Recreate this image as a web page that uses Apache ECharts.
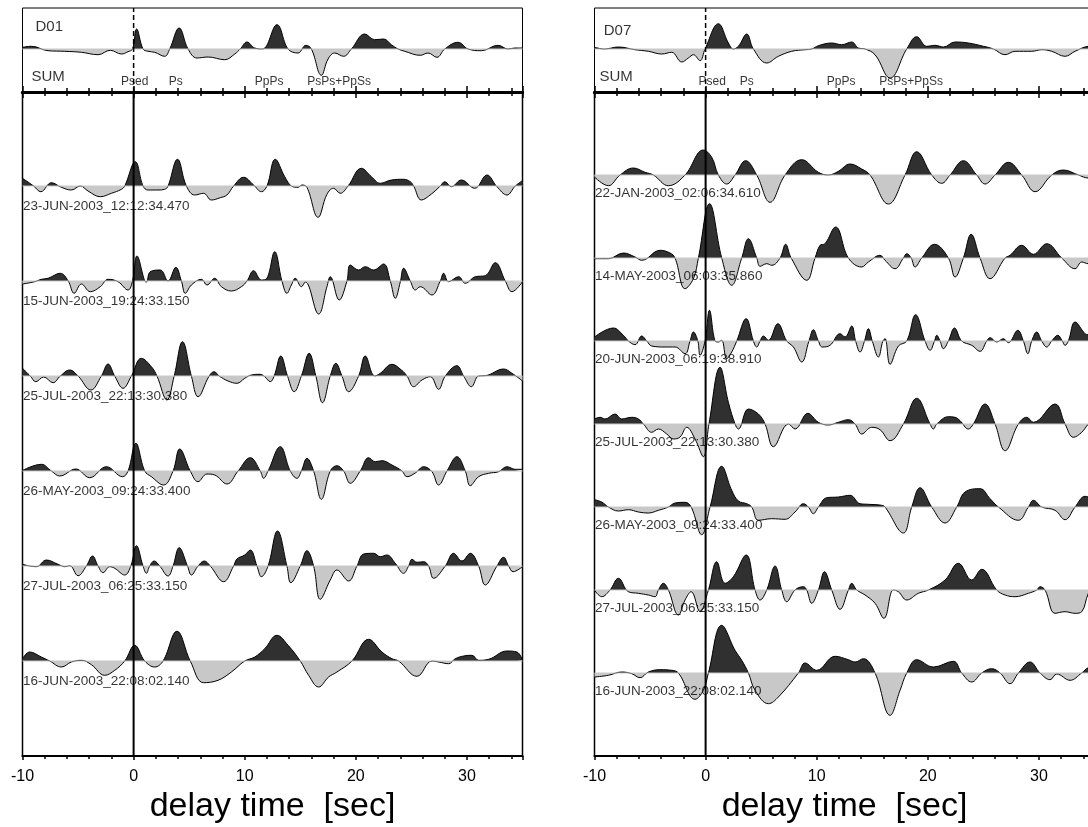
<!DOCTYPE html>
<html><head><meta charset="utf-8">
<script src="https://cdn.jsdelivr.net/npm/echarts@6/dist/echarts.min.js"></script>
<style>html,body{margin:0;padding:0;background:#fff}#c{width:1088px;height:827px}</style>
</head><body><div id="c"></div>
<script>
// ---------------- axis definition ----------------
const X_MIN = -10, X_MAX = 35, X_STEP = 10;
const X_NAME = 'delay time  [sec]';
const PHASE_NAMES = ['Psed', 'Ps', 'PpPs', 'PsPs+PpSs'];
const PHASE_T_D01 = [0.1, 3.8, 12.2, 18.5];
const PHASE_T_D07 = [0.6, 3.7, 12.2, 18.5];

// ---------------- station D01 ----------------
const D01_LABELS = ['23-JUN-2003_12:12:34.470','15-JUN-2003_19:24:33.150','25-JUL-2003_22:13:30.380',
  '26-MAY-2003_09:24:33.400','27-JUL-2003_06:25:33.150','16-JUN-2003_22:08:02.140'];
const D01_SUM = [[-10,0.17],[-9.2,0.27],[-7.7,-0.17],[-6.2,-0.23],[-4.7,-0.33],[-3.2,-0.57],[-2.1,-0.13],[-1.1,-0.5],[-0.5,-0.27],[-0.1,0],[0.27,2.0],[0.85,0],[1.3,-0.23],[1.9,-0.33],[2.8,-0.73],[3.25,0],[4.1,2.1],[4.9,0],[5.7,-0.9],[6.7,-0.8],[8.2,-1.07],[9.1,-0.5],[9.6,0],[10.2,0.7],[10.9,0.1],[11.6,0],[12.9,2.43],[13.9,0],[14.8,-0.4],[15.5,0.37],[16.0,0],[16.9,-2.63],[17.5,-1.0],[18.1,-0.4],[18.9,-0.73],[19.6,0],[20.8,1.5],[21.7,0.93],[22.5,1.0],[23.2,0.43],[23.8,0],[24.4,-0.23],[25.8,-0.63],[26.5,-0.4],[27.3,-0.83],[28.0,0],[29.2,0.67],[30.1,0],[31.3,-0.17],[32.8,0.37],[33.7,0],[34.3,0.1],[35,0.1]];
const D01_T1 = [[-10,0.77],[-9.0,0],[-8.35,-0.57],[-7.4,0.33],[-6.5,-0.13],[-5.6,-0.4],[-4.8,0.0],[-4.1,-0.5],[-3.0,-1.07],[-2.0,-0.73],[-1.1,-0.33],[-0.8,0],[0.15,2.43],[0.85,0],[1.3,-0.4],[2.2,-0.4],[2.8,-0.33],[3.1,0],[3.95,2.67],[4.75,0],[5.5,-0.9],[6.3,-0.73],[7.0,-1.4],[7.8,-1.17],[8.4,-0.9],[9.0,0],[9.9,0.87],[10.8,0.1],[11.5,-0.57],[12.0,0],[12.75,2.67],[13.6,0.93],[14.2,0],[14.8,-0.13],[15.15,0.1],[15.6,-0.13],[16.6,-3.13],[17.4,-0.83],[18.0,-0.23],[18.6,-0.73],[19.3,0],[20.5,1.77],[21.4,0.93],[22.2,0.27],[23.2,0.6],[24.3,0.67],[24.9,0.43],[25.2,0],[25.9,-1.4],[26.8,-0.8],[27.6,0],[28.0,0.43],[28.6,-0.07],[29.5,0.6],[30.7,-0.23],[31.8,1.1],[32.7,-0.07],[33.6,-0.9],[34.35,0],[35,0.53]];
const D01_T2 = [[-10,-0.3],[-8.9,-0.07],[-8.3,0.17],[-7.7,0.27],[-6.6,0.77],[-5.9,0.03],[-5.35,-1.23],[-4.7,-0.3],[-3.9,-1.07],[-3.0,-0.57],[-2.3,0.17],[-1.4,-0.07],[-0.5,-0.9],[-0.1,0],[0.3,2.5],[1.0,0],[1.15,-0.1],[1.5,0.93],[2.4,1.1],[3.1,0],[3.8,1.37],[4.3,0],[4.65,-1.23],[5.2,-0.4],[6.1,0.17],[6.6,-0.4],[7.3,0.27],[7.9,-0.57],[8.8,-1.0],[9.7,-0.57],[10.2,0],[10.8,1.03],[11.5,0.1],[12.0,0.27],[12.7,2.93],[13.35,0],[13.8,-1.23],[14.2,-0.4],[14.55,0.27],[15.1,-0.57],[15.45,-0.1],[16.65,-3.3],[17.4,-0.57],[17.7,0.43],[18.5,-1.9],[19.2,0],[19.5,1.6],[20.25,1.1],[20.85,1.43],[21.6,1.1],[22.5,1.7],[23.1,0],[23.55,-1.73],[24.0,-0.1],[24.3,1.27],[24.9,0],[25.35,-0.9],[25.8,-0.57],[26.85,-1.4],[27.6,0],[27.9,0.77],[28.35,-0.07],[29.25,0.43],[29.85,-0.23],[30.75,0.43],[31.65,0.53],[32.55,1.83],[33.45,0],[34.05,-1.07],[35,-0.07]];
const D01_T3 = [[-10,0.77],[-9.3,0],[-8.8,-0.57],[-8.1,-0.1],[-7.25,-0.67],[-6.6,0],[-5.75,0.6],[-5.0,0],[-3.85,-1.4],[-2.9,0],[-2.3,1.2],[-1.7,0],[-0.95,-1.23],[-0.2,0],[0.7,1.77],[1.6,0.93],[2.1,0],[3.0,-2.4],[3.65,0],[4.4,3.43],[5.2,0],[5.8,-2.07],[6.8,0],[7.25,0.43],[7.7,0],[8.5,-0.5],[9.3,-0.73],[10.0,-0.23],[10.6,0.1],[11.4,0.17],[11.8,-0.07],[12.3,-0.57],[12.65,0],[13.25,2.0],[13.85,0],[14.45,-1.57],[15.1,0],[15.8,2.27],[16.4,0],[17.0,-2.67],[17.7,0],[18.2,1.27],[18.75,0],[19.35,-1.57],[20.25,0],[20.85,2.0],[21.7,0],[22.2,0.27],[23.25,1.17],[24.1,0.6],[24.6,0],[25.2,-1.07],[25.95,-0.4],[26.7,-0.07],[27.45,-1.33],[28.05,0],[29.1,1.03],[29.7,0],[30.4,-1.07],[31.05,0],[31.65,0.03],[33.3,0.7],[34.05,0.27],[35,-0.5]];
const D01_T4 = [[-10,0.05],[-8.3,0.67],[-7.4,0],[-6.65,-0.5],[-5.2,0.2],[-3.95,-0.67],[-2.45,0.43],[-1.0,-0.57],[-0.5,0],[0.2,2.77],[1.0,0],[1.6,-0.57],[2.7,-1.4],[3.55,0],[4.15,2.2],[5.1,0],[5.8,-1.07],[6.6,-0.3],[7.3,-0.4],[8.4,-1.3],[9.4,0],[10.5,1.33],[11.4,0],[11.7,-0.73],[12.1,0],[13.2,2.43],[14.1,0],[14.7,-0.73],[15.1,0],[15.6,1.27],[16.2,0],[16.9,-2.83],[17.7,0],[18.3,0.53],[18.9,0],[19.5,-1.23],[20.4,0],[21.15,1.33],[21.75,0.93],[22.35,1.03],[23.25,0.6],[24.15,0],[24.6,-0.57],[25.35,-0.2],[26.1,0.43],[26.85,-0.07],[27.45,-1.4],[28.2,0],[29.1,1.43],[29.85,0],[30.3,-1.47],[31.05,-0.57],[31.95,-0.23],[32.85,-0.07],[33.6,0.43],[34.35,0.17],[35,0.17]];
const D01_T5 = [[-10,0.17],[-9.35,0],[-8.75,-0.07],[-7.85,0.6],[-6.8,0.17],[-6.2,-0.07],[-5.75,0.03],[-5.0,-0.97],[-4.25,0],[-3.7,1.0],[-3.2,0],[-2.75,-0.67],[-2.15,-0.07],[-1.7,-0.23],[-0.8,-0.9],[-0.25,0],[0.25,2.03],[0.85,0],[1.15,-0.73],[1.45,0],[1.85,0.5],[2.35,0],[3.1,-1.0],[3.55,0],[4.1,1.83],[4.85,0],[5.2,-0.9],[5.8,0],[6.35,0.5],[6.9,0],[8.1,-1.57],[9.0,0],[9.3,0.7],[10.0,1.1],[10.5,1.6],[11.1,0],[11.5,-1.07],[12.1,0],[12.95,3.5],[13.8,0],[14.15,-1.67],[15.0,0],[15.6,1.53],[16.2,0],[16.8,-3.33],[17.7,-1.4],[18.3,-0.4],[19.35,-1.5],[20.1,0],[20.7,1.2],[21.6,1.27],[22.2,0.93],[22.8,1.1],[23.55,0.27],[24.3,-0.73],[24.75,0],[25.05,0.67],[25.5,0.37],[26.1,0.43],[26.55,0],[27.0,-1.23],[28.05,0],[28.8,1.27],[29.55,0.5],[30.3,1.27],[31.05,0],[31.65,-1.9],[32.7,0],[33.3,0.87],[33.75,0],[34.15,-0.57],[35,-0.07]];
const D01_T6 = [[-10,0.23],[-9.35,0.9],[-8.3,0.4],[-7.55,0],[-6.5,-0.6],[-5.6,-0.1],[-4.7,0.07],[-3.8,-0.37],[-2.6,-1.43],[-1.7,-0.93],[-0.8,0],[0.1,1.57],[1.0,0],[1.9,-0.6],[2.65,0],[3.9,2.97],[5.1,0],[6.3,-2.17],[7.6,-1.93],[8.8,-1.1],[10.0,0],[10.9,0.4],[11.8,1.23],[12.9,2.57],[13.9,1.57],[15.0,0],[15.75,-1.43],[16.65,-2.6],[17.55,-1.6],[18.3,-1.1],[19.65,0],[21.15,2.17],[22.35,0.9],[23.25,0.23],[23.85,0],[25.5,-1.53],[26.85,0],[27.45,-0.1],[28.35,-0.27],[28.95,0.23],[29.7,0.5],[30.45,0.57],[31.05,0.07],[31.95,0.17],[33.6,1.0],[34.5,0.9],[35,0.07]];

// ---------------- station D07 ----------------
const D07_LABELS = ['22-JAN-2003_02:06:34.610','14-MAY-2003_06:03:35.860','20-JUN-2003_06:19:38.910',
  '25-JUL-2003_22:13:30.380','26-MAY-2003_09:24:33.400','27-JUL-2003_06:25:33.150','16-JUN-2003_22:08:02.140'];
const D07_SUM = [[-10,0.17],[-9.1,0],[-7.85,0.2],[-6.35,-0.07],[-5.15,-0.23],[-3.95,-0.5],[-3.05,-0.33],[-2.15,-1.3],[-1.55,-0.9],[-1.1,-0.57],[-0.5,-1.17],[-0.05,0],[1.15,2.53],[2.05,0.6],[2.5,0],[2.95,0.27],[3.7,1.5],[4.3,0],[5.5,-1.4],[6.55,-0.73],[7.75,-0.23],[8.95,-0.07],[9.55,0],[10.15,0.33],[11.35,0.6],[12.25,0.43],[13.15,0.7],[13.75,0.1],[14.35,0],[15.25,-0.57],[16.6,-2.9],[18.1,0],[19.0,1.23],[19.9,0.27],[20.65,0.37],[21.4,0.2],[22.45,0.7],[23.65,0.6],[25.0,0.27],[25.9,0],[26.95,-0.57],[27.85,-0.23],[29.35,-0.23],[30.25,-0.07],[31.15,-0.23],[32.35,-0.73],[33.25,-0.23],[34.45,0.27],[35,0.3]];
const D07_T1 = [[-10,-0.2],[-8.75,-1.07],[-7.7,0],[-6.5,0.7],[-5.45,0.27],[-4.7,0],[-3.35,-1.07],[-1.85,0],[-0.2,2.5],[0.55,1.77],[1.15,0],[1.9,-0.9],[2.65,0],[3.6,1.43],[4.6,0],[5.8,-2.73],[7.15,0],[8.65,1.53],[10.15,0.27],[11.05,0],[11.95,0.37],[13.0,1.1],[14.05,0.6],[14.8,0],[16.45,-2.9],[17.95,0],[19.0,2.33],[20.35,0],[21.25,-0.83],[22.0,0],[23.2,1.43],[24.4,0],[25.15,-0.9],[26.05,0],[27.25,1.27],[28.45,0],[29.65,-1.67],[31.15,0],[32.2,0.5],[33.55,0],[34.45,-0.3],[35,-0.2]];
const D07_T2 = [[-10,-0.07],[-8.75,-0.07],[-7.4,0.5],[-6.35,0.1],[-5.75,-0.23],[-4.1,0.77],[-3.2,0.5],[-2.75,0],[-1.85,-3.07],[-1.1,-2.07],[-0.65,0],[0.35,5.43],[1.45,0],[2.35,-2.73],[3.25,0],[3.85,1.93],[4.6,0],[4.9,-0.83],[5.5,-0.57],[5.95,-0.73],[6.7,0],[7.2,1.37],[7.7,0],[9.1,-2.23],[9.85,0],[10.3,1.27],[10.75,1.43],[11.7,3.1],[12.85,0],[14.05,-0.9],[14.65,-0.4],[15.7,0.27],[16.15,-0.23],[17.05,-1.07],[17.8,0],[18.1,0.43],[18.5,0],[18.85,-0.9],[19.45,0],[20.6,1.37],[21.85,0],[22.45,-1.9],[23.2,0],[23.9,2.37],[24.7,0],[25.6,-2.07],[26.95,0],[27.4,0.27],[28.45,1.27],[29.5,0.37],[30.7,1.43],[32.05,0],[33.25,-1.07],[33.85,-0.4],[34.45,-0.57],[35,-0.4]];
const D07_T3 = [[-10,0.4],[-8.3,1.3],[-7.4,0.57],[-6.95,0],[-6.35,-0.37],[-5.75,0.5],[-5.3,0],[-4.85,-0.5],[-3.65,-0.6],[-2.75,-0.6],[-1.85,-1.27],[-1.4,0],[-1.1,0.9],[-0.7,0],[-0.5,-1.43],[-0.05,0],[0.35,3.07],[0.85,0],[1.15,-0.1],[1.45,0.07],[1.9,-1.77],[2.35,-1.1],[2.8,0],[3.65,2.23],[4.3,0],[4.6,-0.6],[4.9,0],[5.2,0.5],[5.65,0.07],[6.5,1.73],[7.3,0],[7.9,-0.6],[8.65,-2.1],[9.3,0],[9.7,1.13],[10.15,0],[10.5,-0.6],[11.2,-0.43],[12.1,0.73],[12.55,0.4],[13.15,1.5],[13.5,0],[13.9,-1.1],[14.3,0],[14.65,1.23],[15.0,0],[15.55,-1.6],[15.95,0],[16.15,0.23],[16.6,-2.33],[17.35,-0.5],[18.1,0],[18.9,2.63],[19.75,0],[20.2,-0.93],[20.6,0],[20.8,0.57],[21.1,0],[21.4,-0.77],[21.85,0],[22.4,1.3],[23.05,0],[23.95,-0.43],[24.7,-1.03],[25.3,0],[25.6,0.33],[26.2,-0.1],[26.8,0.23],[27.25,-0.17],[28.1,1.07],[28.6,0],[29.0,-1.27],[29.35,0],[29.8,0.9],[30.25,0],[30.7,-0.6],[31.15,0],[31.7,0.57],[32.1,0],[32.35,-0.43],[32.65,0],[33.25,1.9],[34.15,0.73],[34.45,0.63],[35,0.5]];
const D07_T4 = [[-10,0.5],[-9.5,0.67],[-9.05,0.5],[-8.15,1.0],[-7.55,0.5],[-6.65,0.67],[-6.05,0.5],[-5.6,0],[-4.85,-0.83],[-4.25,-0.5],[-3.5,-1.0],[-2.9,-1.5],[-2.3,-1.3],[-1.7,-0.33],[-0.95,-1.5],[-0.2,-3.27],[0.3,0],[1.3,5.67],[2.05,2.17],[2.65,0],[2.95,-0.5],[3.85,1.5],[4.75,1.0],[5.35,0],[6.1,-2.27],[7.45,0],[8.05,-0.5],[9.2,1.07],[10.15,0.17],[11.05,-0.1],[11.95,0.17],[12.85,0.43],[13.45,0],[14.05,-1.0],[14.95,-0.33],[15.7,-0.57],[16.6,-1.67],[17.8,0],[19.0,2.57],[20.2,0],[20.5,-0.5],[20.8,0],[21.85,0.73],[22.45,0.67],[22.9,0.33],[23.65,-0.5],[24.1,0],[25.15,2.0],[26.05,0],[26.95,-2.67],[28.15,0],[28.9,0.67],[29.5,0.17],[31.45,2.0],[32.35,0],[33.1,-1.33],[33.85,-0.83],[34.45,0],[35,0.5]];
const D07_T5 = [[-10,0.73],[-9.35,0.5],[-8.75,0],[-7.85,-0.4],[-6.95,-0.27],[-6.05,-0.5],[-5.15,-0.6],[-4.25,-0.33],[-3.35,0],[-2.75,0.4],[-1.85,0.47],[-1.3,0],[-0.35,-2.77],[0.4,0],[1.45,4.07],[2.35,1.67],[2.95,0.6],[3.7,0.33],[4.15,0],[4.75,-1.33],[5.95,-1.17],[7.15,-1.23],[8.05,-0.5],[8.8,0.33],[9.25,0],[9.7,-0.67],[10.15,0],[10.9,0.93],[11.95,1.0],[13.0,1.17],[13.9,0.33],[14.65,0.27],[15.85,0.17],[16.15,0],[17.8,-2.6],[18.55,0],[19.3,1.93],[20.35,0],[21.55,-1.6],[22.6,0],[23.35,1.5],[24.7,1.83],[25.6,0.83],[26.35,0],[28.15,-1.33],[29.05,0],[29.5,0.67],[30.25,0],[31.45,-0.33],[32.35,-1.27],[33.25,0],[34.15,1.07],[34.45,1.0],[35,0.9]];
const D07_T6 = [[-10,0],[-9.35,-0.67],[-8.6,0],[-7.85,1.17],[-6.95,-0.17],[-6.05,-0.33],[-5.15,-0.5],[-4.55,-0.67],[-4.25,0],[-3.8,0.67],[-3.35,0],[-2.45,-2.5],[-1.85,-1.0],[-1.3,-0.17],[-0.5,-2.17],[0.25,0],[1.0,2.83],[1.75,0.67],[2.5,1.33],[3.65,3.5],[4.45,0],[4.9,-1.0],[5.5,0],[6.25,2.4],[6.85,0],[7.3,-1.17],[8.05,0],[8.8,0.33],[9.1,0],[9.55,-1.33],[10.15,0],[10.7,1.83],[11.35,0],[12.1,-1.93],[12.85,0],[13.15,0.67],[13.6,0],[14.35,-0.5],[15.25,-1.33],[16.05,-2.83],[16.9,0],[17.35,-0.17],[18.1,-1.0],[19.15,-0.33],[20.05,0],[21.55,1.0],[22.75,2.67],[23.95,1.0],[24.85,2.07],[26.2,0],[26.95,-0.5],[27.85,-0.67],[29.05,-0.33],[29.8,0],[30.1,0.33],[30.55,0],[31.45,-2.33],[32.35,-2.17],[33.25,-2.33],[33.85,-2.17],[34.45,-0.33],[35,0.5]];
const D07_T7 = [[-10,-0.4],[-8.75,-0.23],[-7.55,0.1],[-6.65,-0.07],[-5.9,-0.47],[-5.15,0.1],[-4.1,0.33],[-3.05,0.27],[-2.45,0],[-0.95,-2.63],[-0.2,-1.73],[0.25,0],[1.45,4.77],[2.65,2.27],[3.25,1.27],[3.85,0],[4.45,-1.73],[5.65,-3.07],[6.55,-2.4],[8.35,0],[8.95,1.0],[10.0,0.27],[11.65,1.67],[12.85,1.33],[13.45,1.1],[14.2,1.43],[15.25,0],[16.6,-4.23],[17.5,-1.73],[18.1,0],[19.0,1.33],[20.5,0.6],[22.3,1.17],[23.05,0],[23.95,-0.9],[24.85,0],[25.75,0.43],[26.5,0],[27.4,-1.07],[28.15,0],[29.2,1.1],[30.1,0],[31.0,-0.67],[31.6,-0.1],[32.8,-0.73],[33.85,0],[34.45,0.53],[35,0.6]];

// ---------------- layout & style ----------------
const FONT = '"Liberation Sans", Arial, Helvetica, sans-serif';
const DARK = '#303030', LIGHT = '#c8c8c8';
const TOP_Y = [-4.3, 4.1], MAIN_Y = [0, 66.4];

const PANELS = [
  {left: 22.5, station: 'D01', stationPos: [-8.875, 2.2], sumPos: [-9.235, -2.8], phases: PHASE_T_D01,
   sum: D01_SUM, traces: [D01_T1, D01_T2, D01_T3, D01_T4, D01_T5, D01_T6], labels: D01_LABELS, spacing: 9.5, labelDy: 20},
  {left: 594.5, station: 'D07', stationPos: [-9.21, 1.85], sumPos: [-9.6, -2.8], phases: PHASE_T_D07,
   sum: D07_SUM, traces: [D07_T1, D07_T2, D07_T3, D07_T4, D07_T5, D07_T6, D07_T7], labels: D07_LABELS, spacing: 8.3, labelDy: 18}
];

const grids = [], xAxes = [], yAxes = [], series = [], visualMaps = [];
const tickStyle = {color: '#000', width: 1.5};

function addTrace(xi, yi, data, base) {
  const idx = series.length;
  series.push({type: 'line', xAxisIndex: xi, yAxisIndex: yi, data: data.map(d => [d[0], base + d[1]]),
    smooth: 0.4, symbol: 'none', showSymbol: false, silent: true, z: 3,
    lineStyle: {color: '#000', width: 1}, areaStyle: {origin: base, opacity: 1}});
  visualMaps.push({type: 'piecewise', show: false, seriesIndex: idx, dimension: 1,
    pieces: [{gte: base - 40, lt: base, color: LIGHT}, {gte: base, lte: base + 40, color: DARK}]});
  series.push({type: 'line', xAxisIndex: xi, yAxisIndex: yi, data: [[X_MIN, base], [X_MAX, base]],
    symbol: 'none', silent: true, z: 4, lineStyle: {color: LIGHT, width: 1}});
}
function textSeries(xi, yi, items, label) {
  series.push({type: 'scatter', xAxisIndex: xi, yAxisIndex: yi, symbolSize: 1, silent: true, z: 6,
    itemStyle: {color: 'rgba(0,0,0,0)'}, data: items,
    label: Object.assign({show: true, formatter: '{b}', color: '#000', fontFamily: FONT}, label)});
}

PANELS.forEach(p => {
  const gTop = grids.length;
  grids.push({left: p.left, top: 8, width: 500, height: 84, outerBoundsMode: 'none', containLabel: false,
    show: true, borderColor: '#000', borderWidth: 1, backgroundColor: 'rgba(0,0,0,0)'});
  const gMain = grids.length;
  grids.push({left: p.left, top: 92, width: 500, height: 664, outerBoundsMode: 'none', containLabel: false,
    show: true, borderColor: '#000', borderWidth: 1.5, backgroundColor: 'rgba(0,0,0,0)'});

  const base = {type: 'value', min: X_MIN, max: X_MAX, interval: X_STEP, splitLine: {show: false}};
  const xTop = xAxes.length;
  xAxes.push(Object.assign({}, base, {gridIndex: gTop, position: 'bottom',
    axisLine: {onZero: false, lineStyle: {color: '#000', width: 3}},
    axisTick: {inside: true, length: 6, lineStyle: tickStyle},
    minorTick: {show: true, splitNumber: 5, length: 4, lineStyle: tickStyle}, axisLabel: {show: false}}));
  const xMain = xAxes.length;
  xAxes.push(Object.assign({}, base, {gridIndex: gMain, position: 'bottom',
    axisLine: {onZero: false, lineStyle: {color: '#000', width: 2}},
    axisTick: {length: 4, lineStyle: tickStyle},
    minorTick: {show: true, splitNumber: 5, length: 3, lineStyle: tickStyle},
    axisLabel: {fontSize: 16, color: '#000', margin: 13, fontFamily: FONT, showMaxLabel: false},
    name: X_NAME, nameLocation: 'middle', nameGap: 32,
    nameTextStyle: {fontSize: 34, color: '#000', fontFamily: FONT}}));
  xAxes.push(Object.assign({}, base, {gridIndex: gMain, position: 'top',
    axisLine: {onZero: false, lineStyle: {color: '#000', width: 3}},
    axisTick: {inside: true, length: 6, lineStyle: tickStyle},
    minorTick: {show: true, splitNumber: 5, length: 4, lineStyle: tickStyle}, axisLabel: {show: false}}));

  const yTop = yAxes.length;
  yAxes.push({gridIndex: gTop, type: 'value', min: TOP_Y[0], max: TOP_Y[1], show: false});
  const yMain = yAxes.length;
  yAxes.push({gridIndex: gMain, type: 'value', min: MAIN_Y[0], max: MAIN_Y[1], show: false});

  // stacked traces
  addTrace(xTop, yTop, p.sum, 0);
  const n = p.traces.length;
  const bases = p.traces.map((t, k) => p.spacing * (n - k));
  p.traces.forEach((t, k) => addTrace(xMain, yMain, t, bases[k]));

  // texts
  textSeries(xMain, yMain, p.labels.map((name, k) => ({name, value: [X_MIN, bases[k]]})),
    {position: 'right', distance: 0, offset: [0, p.labelDy], fontSize: 13.5});
  textSeries(xTop, yTop, [{name: p.station, value: p.stationPos}, {name: 'SUM', value: p.sumPos}],
    {position: 'right', distance: 0, fontSize: 15});
  textSeries(xTop, yTop, PHASE_NAMES.map((name, k) => ({name, value: [p.phases[k], -3.3]})),
    {position: 'inside', fontSize: 12});

  // zero-time lines
  series.push({type: 'line', xAxisIndex: xMain, yAxisIndex: yMain, data: [[0, MAIN_Y[0]], [0, MAIN_Y[1]]],
    symbol: 'none', silent: true, z: 10, lineStyle: {color: '#000', width: 2}});
  series.push({type: 'line', xAxisIndex: xTop, yAxisIndex: yTop, data: [[0, TOP_Y[0]], [0, TOP_Y[1]]],
    symbol: 'none', silent: true, z: 10, lineStyle: {color: '#000', width: 1.5, type: [5, 3]}});
});

const chart = echarts.init(document.getElementById('c'), null, {renderer: 'canvas'});
chart.setOption({
  animation: false,
  backgroundColor: '#fff',
  grid: grids, xAxis: xAxes, yAxis: yAxes, visualMap: visualMaps, series: series
});
</script>
</body></html>
